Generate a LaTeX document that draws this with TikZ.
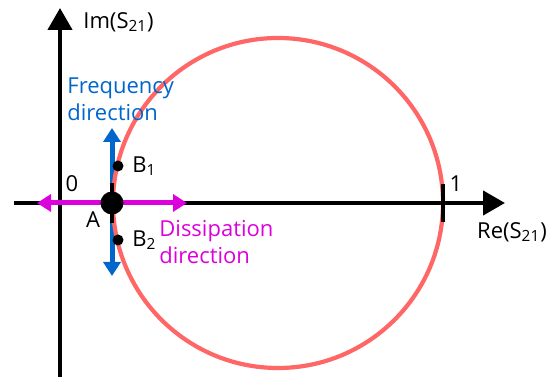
\documentclass[tikz,border=0pt]{standalone}
\usepackage{fontspec}
\setmainfont{Open Sans}
\usetikzlibrary{arrows.meta}

\definecolor{circred}{RGB}{255,102,102}
\definecolor{freqblue}{RGB}{0,102,204}
\definecolor{dissmag}{RGB}{220,0,220}

\begin{document}
\begin{tikzpicture}[
    x=0.5pt, y=-0.5pt,
    axis/.style={line width=2.2pt, draw=black, -{Triangle[length=11pt,width=12pt]}},
    dirarrow/.style={line width=2.5pt, {Triangle[length=7pt,width=8.5pt]}-{Triangle[length=7pt,width=8.5pt]}},
    bigdot/.style={circle, fill=black, inner sep=0pt, minimum size=11.5pt},
    smalldot/.style={circle, fill=black, inner sep=0pt, minimum size=5.5pt},
    lbl/.style={font=\fontsize{11}{13.5}\selectfont, inner sep=1pt},
    sublbl/.style={lbl, align=left}
]
    \useasboundingbox (0,0) rectangle (558,379);

    % Axes
    \coordinate (xstart) at (14,203);
    \coordinate (xend) at (505,203);
    \coordinate (ystart) at (60,377);
    \coordinate (yend) at (60,8);
    \draw[axis] (xstart) -- (xend);
    \draw[axis] (ystart) -- (yend);
    \node[lbl, anchor=west] (imlabel) at (81,22) {Im(S\textsubscript{21})};
    \node[lbl, anchor=north] (relabel) at (512,220) {Re(S\textsubscript{21})};
    \node[lbl] (zero) at (72,184) {0};

    % Direction arrows
    \coordinate (A) at (112,203);
    \coordinate (ftop) at (112,128);
    \coordinate (fbot) at (112,276);
    \coordinate (dleft) at (37,203);
    \coordinate (dright) at (187,203);
    \draw[dirarrow, draw=freqblue, fill=freqblue] (fbot) -- (ftop);
    \draw[dirarrow, draw=dissmag, fill=dissmag] (dleft) -- (dright);

    % Circle
    \draw[line width=2.1pt, draw=circred] (278,203) circle[radius=82.5pt];

    % Tick at 1
    \coordinate (onetop) at (443,184);
    \coordinate (onebot) at (443,222);
    \draw[line width=2.2pt] (onetop) -- (onebot);
    \node[lbl] (one) at (456,184) {1};

    % Points
    \draw[line width=2.2pt] (112,183) -- (112,223);
    \node[bigdot] (Adot) at (A) {};
    \node[smalldot] (B1) at (118,166) {};
    \node[smalldot] (B2) at (118,240) {};
    \node[lbl] (Alabel) at (93,220) {A};
    \node[lbl, anchor=west] at ([xshift=3pt]B1.east) {B\textsubscript{1}};
    \node[lbl, anchor=west] at ([xshift=3pt]B2.east) {B\textsubscript{2}};

    % Direction labels
    \node[sublbl, text=freqblue, anchor=north west] (freqlabel) at (65,75) {Frequency\\direction};
    \node[sublbl, text=dissmag, anchor=north west] (disslabel) at (157,218) {Dissipation\\direction};

\end{tikzpicture}
\end{document}
